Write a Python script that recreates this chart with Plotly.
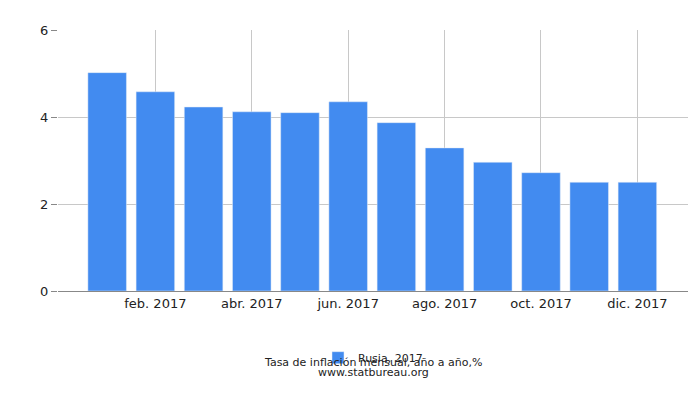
import plotly.graph_objects as go

months = ["ene. 2017","feb. 2017","mar. 2017","abr. 2017","may. 2017","jun. 2017",
          "jul. 2017","ago. 2017","sep. 2017","oct. 2017","nov. 2017","dic. 2017"]
values = [5.02, 4.58, 4.23, 4.12, 4.10, 4.35, 3.87, 3.29, 2.96, 2.72, 2.50, 2.50]
xpos = list(range(len(months)))
tick_idx = [1, 3, 5, 7, 9, 11]

fig = go.Figure(go.Bar(x=xpos, y=values, name="Rusia, 2017", marker_color="#428bf0",
                       width=0.8, hovertext=months))
fig.update_layout(
    width=700, height=400, plot_bgcolor="white", paper_bgcolor="white",
    margin=dict(l=50, r=20, t=22, b=117),
    font=dict(family="DejaVu Sans", size=13, color="#222"),
    showlegend=True,
    legend=dict(orientation="h", x=0.5, xanchor="center", y=-0.2, yanchor="top",
                font=dict(size=11)),
    xaxis=dict(range=[-1.02, 12.05], tickvals=[xpos[i] for i in tick_idx],
               ticktext=[months[i] for i in tick_idx], showgrid=True,
               gridcolor="#c8c8c8", showline=True, linecolor="#888", ticks="", zeroline=False),
    yaxis=dict(range=[0, 6], tickvals=[0, 2, 4, 6], showgrid=True, gridcolor="#c8c8c8",
               ticks="outside", ticklen=6, tickcolor="#888", showline=False, zeroline=False),
    annotations=[
        dict(text="Tasa de inflación mensual, año a año,%", x=0.5, y=-0.305, xref="paper",
             yref="paper", showarrow=False, font=dict(size=11), xanchor="center"),
        dict(text="www.statbureau.org", x=0.5, y=-0.345, xref="paper", yref="paper",
             showarrow=False, font=dict(size=11), xanchor="center"),
    ],
)
fig.write_html("out.html")
